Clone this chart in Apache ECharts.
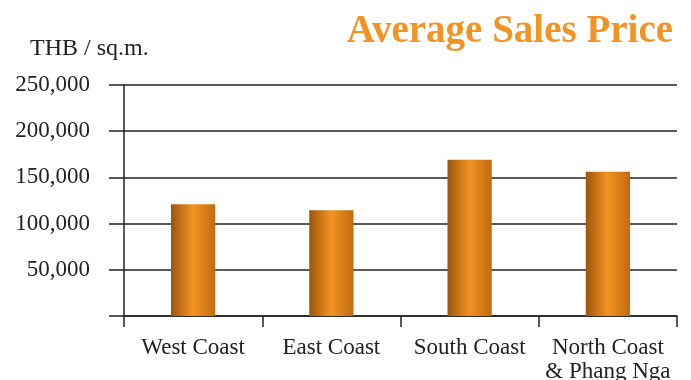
<!DOCTYPE html>
<html><head><meta charset="utf-8">
<script src="https://cdn.jsdelivr.net/npm/echarts@6/dist/echarts.min.js"></script>
<style>html,body{margin:0;padding:0;background:#fff}#c{width:691px;height:380px}</style>
</head><body><div id="c"></div>
<script>
const categories = ['West Coast', 'East Coast', 'South Coast', 'North Coast\n& Phang Nga'];
const prices = [121000, 114500, 169000, 156000];
const titleText = 'Average Sales Price';
const unitText = 'THB / sq.m.';

const chart = echarts.init(document.getElementById('c'), null, {renderer: 'canvas'});
const font = '"Liberation Serif", "DejaVu Serif", serif';
const barGrad = new echarts.graphic.LinearGradient(0, 0, 1, 0, [
  {offset: 0, color: '#9c5608'},
  {offset: 0.5, color: '#f49324'},
  {offset: 1, color: '#c06a10'}
]);
chart.setOption({
  animation: false,
  backgroundColor: '#fff',
  title: {
    text: titleText, right: 13, top: 7,
    textStyle: {fontFamily: font, fontSize: 39, fontWeight: 'bold', color: '#f39323'}
  },
  graphic: [{
    type: 'text', left: 30, top: 37,
    style: {text: unitText, fontFamily: font, fontSize: 24, fill: '#222'}
  }],
  grid: {left: 124, right: 14, top: 85, bottom: 64, containLabel: false, outerBoundsMode: 'none'},
  xAxis: {
    type: 'category', data: categories,
    axisLine: {lineStyle: {color: '#222', width: 1.5}},
    axisTick: {show: true, length: 11, lineStyle: {color: '#222', width: 1.5}},
    axisLabel: {fontFamily: font, fontSize: 23, color: '#222', margin: 20, lineHeight: 24, interval: 0}
  },
  yAxis: {
    type: 'value', min: 0, max: 250000, interval: 50000,
    axisLine: {show: true, lineStyle: {color: '#222', width: 1.5}},
    axisTick: {show: true, length: 15, lineStyle: {color: '#222', width: 1.5}},
    splitLine: {lineStyle: {color: '#222', width: 1.5}},
    axisLabel: {
      fontFamily: font, fontSize: 23, color: '#222', margin: 34,
      formatter: v => v === 0 ? '' : v.toLocaleString('en-US')
    }
  },
  series: [{
    type: 'bar', data: prices, barWidth: '32%',
    itemStyle: {color: barGrad}
  }]
});
</script></body></html>
